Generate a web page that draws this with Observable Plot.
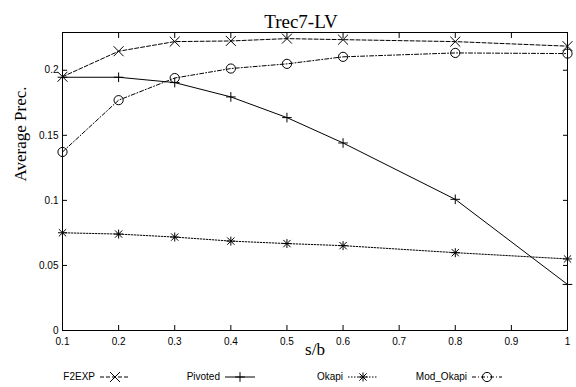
<!DOCTYPE html>
<html><head><meta charset="utf-8">
<script src="https://cdn.jsdelivr.net/npm/d3@7"></script>
<script src="https://cdn.jsdelivr.net/npm/@observablehq/plot@0.6"></script>
<style>
body{margin:0;background:#fff;}
#legend{position:relative;width:576px;height:25px;font:10px "Liberation Sans",Arial,sans-serif;color:#000;}
.item{position:absolute;top:10px;height:10px;display:flex;align-items:center;white-space:nowrap;}
.item span{margin-right:5px;line-height:10px;}
.item svg{display:block;overflow:visible;}
</style></head><body>
<div id="chart"></div>
<div id="legend"></div>
<script>
// data
const sb = [0.1, 0.2, 0.3, 0.4, 0.5, 0.6, 0.8, 1.0];
const f2exp = [0.1950, 0.2146, 0.2220, 0.2225, 0.2243, 0.2235, 0.2220, 0.2185];
const pivoted = [0.1946, 0.1946, 0.1905, 0.1795, 0.1636, 0.1441, 0.1008, 0.0354];
const okapi = [0.0751, 0.0741, 0.0718, 0.0687, 0.0668, 0.0652, 0.0598, 0.0550];
const modOkapi = [0.1372, 0.1770, 0.1940, 0.2013, 0.2049, 0.2103, 0.2133, 0.2128];
const seriesNames = ["F2EXP", "Pivoted", "Okapi", "Mod_Okapi"];
const xTicks = [0.1, 0.2, 0.3, 0.4, 0.5, 0.6, 0.7, 0.8, 0.9, 1];
const yTicks = [0, 0.05, 0.1, 0.15, 0.2];
const titleText = "Trec7-LV";
const xLabel = "s/b";
const yLabel = "Average Prec.";

const seriesValues = [f2exp, pivoted, okapi, modOkapi];
const dashes = ["4,2", null, "1.5,1.5", "4,2,1,2"];
// marker symbols per series: [symbol, r]
const markers = [
  [["times", 4.6]],
  [["plus", 3.2]],
  [["plus", 3.0], ["times", 3.4]],
  [["circle", 4.6]]
];

const serif = "'Liberation Serif','Times New Roman',serif";
const rows = seriesNames.map((name, k) => sb.map((x, i) => ({x, y: seriesValues[k][i], series: name})));

const marks = [
  Plot.frame({stroke: "#000", strokeWidth: 1}),
  Plot.axisX(xTicks, {anchor: "bottom", tickSize: 0, tickPadding: 7, tickFormat: d => String(d), label: null}),
  Plot.axisX(xTicks, {anchor: "bottom", tickSize: -5, fill: "none", label: null}),
  Plot.axisX(xTicks, {anchor: "top", tickSize: -5, fill: "none", label: null}),
  Plot.axisY(yTicks, {anchor: "left", tickSize: 0, tickPadding: 4, tickFormat: d => String(d), label: null}),
  Plot.axisY(yTicks, {anchor: "left", tickSize: -5, fill: "none", label: null}),
  Plot.axisY(yTicks, {anchor: "right", tickSize: -5, fill: "none", label: null})
];
rows.forEach((data, k) => {
  marks.push(Plot.line(data, {x: "x", y: "y", stroke: "#000", strokeWidth: 1, strokeDasharray: dashes[k]}));
  markers[k].forEach(([sym, r]) => {
    marks.push(Plot.dot(data, {x: "x", y: "y", symbol: sym, r, stroke: "#000", fill: "none", strokeWidth: 1}));
  });
});
marks.push(
  Plot.text([titleText], {frameAnchor: "top", dx: -14, dy: -18, fontFamily: serif, fontSize: 19, fill: "#000"}),
  Plot.text([xLabel], {frameAnchor: "bottom", dy: 24, fontFamily: serif, fontSize: 17, fill: "#000"}),
  Plot.text([yLabel], {frameAnchor: "left", dx: -42, rotate: -90, fontFamily: serif, fontSize: 17, fill: "#000"})
);

const chart = Plot.plot({
  width: 576, height: 362,
  marginLeft: 62, marginRight: 9, marginTop: 32, marginBottom: 32,
  x: {type: "linear", domain: [0.1, 1]},
  y: {type: "linear", domain: [0, 0.229]},
  style: {fontFamily: "'Liberation Sans',Arial,sans-serif", fontSize: "10px", color: "#000", background: "#fff"},
  marks
});
document.getElementById("chart").appendChild(chart);

// legend
const symMap = {times: d3.symbolTimes, plus: d3.symbolPlus, circle: d3.symbolCircle};
const legendRight = [130, 255, 378, 502];
const sampleW = 30;
const legend = d3.select("#legend");
seriesNames.forEach((name, k) => {
  const item = legend.append("div").attr("class", "item");
  item.append("span").text(name);
  const svg = item.append("svg").attr("width", sampleW).attr("height", 10);
  svg.append("line").attr("x1", 0).attr("x2", sampleW).attr("y1", 5).attr("y2", 5)
    .attr("stroke", "#000").attr("stroke-width", 1).attr("stroke-dasharray", dashes[k]);
  markers[k].forEach(([sym, r]) => {
    svg.append("path").attr("transform", `translate(${sampleW / 2},5)`)
      .attr("d", d3.symbol(symMap[sym], Math.PI * r * r)())
      .attr("fill", "none").attr("stroke", "#000").attr("stroke-width", 1);
  });
  const w = item.node().getBoundingClientRect().width;
  item.style("left", (legendRight[k] - w) + "px");
});
</script>
</body></html>
